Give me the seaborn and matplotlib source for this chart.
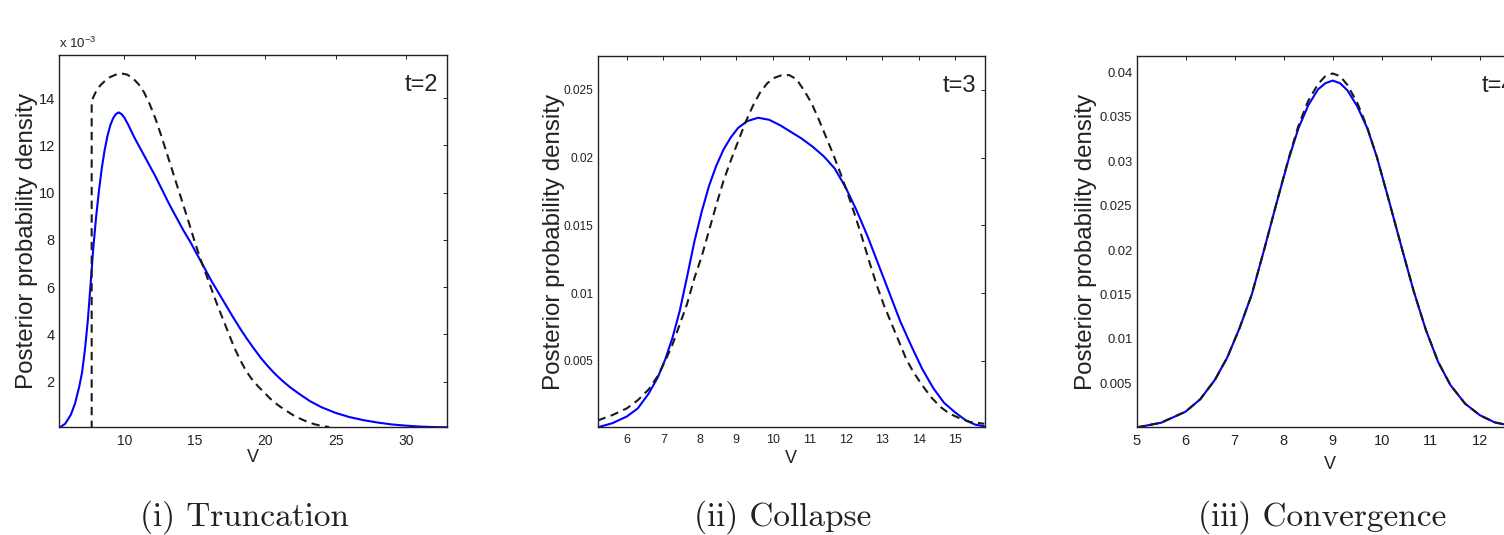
import numpy as np
import pandas as pd
import matplotlib
matplotlib.use("Agg")
import matplotlib.pyplot as plt
import seaborn as sns

# ---------------- data ----------------
# Panel (i) Truncation  (y in units of 1e-3)
p1_blue_x = [5.43, 5.8, 6.2, 6.5, 6.8, 7.0, 7.2, 7.4, 7.6, 7.8, 8.0, 8.2, 8.4, 8.6, 8.8,
             9.0, 9.2, 9.4, 9.6, 9.8, 10.0, 10.3, 10.7, 11.2, 11.7, 12.2, 12.7, 13.2,
             13.7, 14.2, 14.7, 15.2, 15.7, 16.2, 16.7, 17.2, 17.7, 18.2, 18.7, 19.2,
             19.7, 20.2, 20.7, 21.2, 21.8, 22.5, 23.2, 24.0, 25.0, 26.0, 27.0, 28.0,
             29.0, 30.0, 31.0, 32.0, 32.9]
p1_blue_y = [0.07, 0.22, 0.6, 1.08, 1.8, 2.4, 3.35, 4.55, 6.1, 7.7, 9.0, 10.1, 11.05, 11.8,
             12.4, 12.85, 13.15, 13.33, 13.4, 13.33, 13.18, 12.85, 12.35, 11.8, 11.25,
             10.7, 10.1, 9.5, 8.95, 8.4, 7.9, 7.35, 6.8, 6.25, 5.75, 5.25, 4.75, 4.27,
             3.82, 3.4, 3.0, 2.65, 2.33, 2.05, 1.75, 1.45, 1.17, 0.92, 0.68, 0.5, 0.37,
             0.27, 0.19, 0.14, 0.1, 0.08, 0.07]
p1_dash_x = [7.68, 7.68, 7.8, 8.0, 8.3, 8.6, 9.0, 9.4, 9.8, 10.2, 10.6, 11.0, 11.4, 11.8,
             12.2, 12.6, 13.0, 13.4, 13.8, 14.2, 14.6, 15.0, 15.4, 15.8, 16.2, 16.6, 17.0,
             17.4, 17.8, 18.2, 18.6, 19.0, 19.5, 20.0, 20.5, 21.0, 21.5, 22.0, 22.5, 23.0,
             23.5, 24.0, 24.54]
p1_dash_y = [0.0, 13.86, 14.05, 14.3, 14.55, 14.72, 14.9, 15.0, 15.05, 15.0, 14.85, 14.6,
             14.25, 13.75, 13.15, 12.45, 11.7, 10.95, 10.2, 9.45, 8.7, 7.92, 7.2, 6.55,
             5.9, 5.25, 4.65, 4.05, 3.45, 2.95, 2.5, 2.15, 1.8, 1.5, 1.2, 0.97, 0.77,
             0.58, 0.43, 0.3, 0.2, 0.13, 0.08]

# Panel (ii) Collapse
p2_blue_x = [5.2, 5.6, 6.0, 6.3, 6.6, 6.85, 7.05, 7.25, 7.45, 7.65, 7.85, 8.05, 8.25, 8.45,
             8.65, 8.85, 9.05, 9.3, 9.6, 9.9, 10.2, 10.5, 10.8, 11.1, 11.4, 11.7, 12.0,
             12.3, 12.6, 12.9, 13.2, 13.5, 13.8, 14.1, 14.4, 14.7, 15.0, 15.3, 15.55, 15.8]
p2_blue_y = [0.0001, 0.0004, 0.0009, 0.0015, 0.0026, 0.0038, 0.0051, 0.0067, 0.0087, 0.0112,
             0.0138, 0.0160, 0.0179, 0.0194, 0.0206, 0.0215, 0.0222, 0.0227, 0.02295,
             0.0228, 0.0224, 0.0219, 0.0214, 0.0208, 0.0201, 0.0192, 0.0178, 0.0161,
             0.0142, 0.0121, 0.0100, 0.0079, 0.0061, 0.0044, 0.0030, 0.0019, 0.0012,
             0.0006, 0.0003, 0.00017]
p2_dash_x = [5.2, 5.6, 6.0, 6.3, 6.6, 6.85, 7.05, 7.25, 7.45, 7.65, 7.85, 8.05, 8.25, 8.45,
             8.65, 8.85, 9.05, 9.25, 9.45, 9.65, 9.85, 10.05, 10.25, 10.45, 10.65, 10.85,
             11.05, 11.25, 11.45, 11.65, 11.85, 12.05, 12.25, 12.45, 12.65, 12.85, 13.05,
             13.25, 13.45, 13.65, 13.85, 14.1, 14.35, 14.6, 14.85, 15.1, 15.4, 15.8]
p2_dash_y = [0.0006, 0.001, 0.0015, 0.0021, 0.0029, 0.0039, 0.005, 0.0062, 0.0077, 0.0092,
             0.0111, 0.0127, 0.0146, 0.0165, 0.0183, 0.0198, 0.0212, 0.0226, 0.0238,
             0.0248, 0.0255, 0.0259, 0.0261, 0.0261, 0.0258, 0.0250, 0.0241, 0.0229,
             0.0216, 0.0203, 0.0189, 0.0174, 0.0158, 0.0141, 0.0123, 0.0106, 0.0091,
             0.0078, 0.0065, 0.0052, 0.0042, 0.0032, 0.0023, 0.0016, 0.0011, 0.0008,
             0.0005, 0.00036]

# Panel (iii) Convergence
p3_x = [5.0, 5.5, 6.0, 6.3, 6.6, 6.85, 7.1, 7.35, 7.6, 7.85, 8.1, 8.3, 8.5, 8.7, 8.85,
        9.0, 9.15, 9.3, 9.5, 9.7, 9.9, 10.15, 10.4, 10.65, 10.9, 11.15, 11.4, 11.7, 12.0,
        12.3, 12.6, 12.9]
p3_blue_y = [0.00002, 0.00055, 0.0018, 0.0032, 0.0054, 0.0079, 0.0112, 0.0150, 0.0200,
             0.0252, 0.0302, 0.0337, 0.0363, 0.0381, 0.0388, 0.0391, 0.0388, 0.0380,
             0.0362, 0.0338, 0.0305, 0.0255, 0.0204, 0.0154, 0.0110, 0.0074, 0.0048,
             0.0027, 0.0014, 0.0006, 0.00025, 0.0001]
p3_dash_y = [0.00003, 0.00056, 0.0018, 0.0032, 0.0054, 0.0079, 0.0112, 0.0150, 0.0200,
             0.0252, 0.0303, 0.0340, 0.0368, 0.0387, 0.0396, 0.0399, 0.0396, 0.0386,
             0.0366, 0.0339, 0.0305, 0.0255, 0.0204, 0.0154, 0.0110, 0.0074, 0.0048,
             0.0027, 0.0014, 0.0006, 0.00025, 0.0001]

time_labels = ["t=2", "t=3", "t=4"]
captions = ["(i) Truncation", "(ii) Collapse", "(iii) Convergence"]
p1_xticks = [10, 15, 20, 25, 30]
p1_yticks = [2, 4, 6, 8, 10, 12, 14]
p2_xticks = list(range(6, 16))
p2_yticks = [0.005, 0.01, 0.015, 0.02, 0.025]
p3_xticks = list(range(5, 13))
p3_yticks = [0.005, 0.01, 0.015, 0.02, 0.025, 0.03, 0.035, 0.04]

# ---------------- styling ----------------
sns.set_style("white")
plt.rcParams["font.family"] = ["Liberation Sans", "DejaVu Sans"]
plt.rcParams["mathtext.fontset"] = "custom"
plt.rcParams["mathtext.rm"] = "Liberation Sans"
plt.rcParams["mathtext.it"] = "Liberation Sans"

W, H = 1504, 535
fig = plt.figure(figsize=(W / 100, H / 100), dpi=100)

def px_axes(l, r, t, b):
    return fig.add_axes([l / W, (H - b) / H, (r - l) / W, (b - t) / H])

axes = [px_axes(59, 447, 55, 427.3),
        px_axes(597.7, 985, 55.7, 427.3),
        px_axes(1136.5, 1524, 55.7, 427.3)]

BLUE = "#0000ff"
DASH = "#1a1a1a"

def draw(ax, bx, by, dx, dy):
    sns.lineplot(x=bx, y=by, ax=ax, color=BLUE, lw=1.5, sort=False, estimator=None)
    sns.lineplot(x=dx, y=dy, ax=ax, color=DASH, lw=1.5, sort=False, estimator=None,
                 linestyle=(0, (4, 2.6)))

draw(axes[0], p1_blue_x, p1_blue_y, p1_dash_x, p1_dash_y)
draw(axes[1], p2_blue_x, p2_blue_y, p2_dash_x, p2_dash_y)
draw(axes[2], p3_x, p3_blue_y, p3_x, p3_dash_y)

lims = [((5.36, 32.91), (0.07, 15.83)),
        ((5.2, 15.82), (0.0001, 0.02753)),
        ((5.0, 12.9), (0.00004, 0.0419))]
ticks = [(p1_xticks, p1_yticks), (p2_xticks, p2_yticks), (p3_xticks, p3_yticks)]
tick_fs = [(10, 10.5), (9, 8.6), (10.5, 9.4)]
ylab_x = [-0.054, -0.084, -0.101]
xlab_y = [-0.058, -0.062, -0.076]

for i, ax in enumerate(axes):
    ax.set_xlim(*lims[i][0])
    ax.set_ylim(*lims[i][1])
    ax.set_xticks(ticks[i][0])
    ax.set_yticks(ticks[i][1])
    ax.set_xticklabels([f"{v:g}" for v in ticks[i][0]], fontsize=tick_fs[i][0])
    ax.set_yticklabels([f"{v:g}" for v in ticks[i][1]], fontsize=tick_fs[i][1])
    for s in ax.spines.values():
        s.set_visible(True)
        s.set_color("#222222")
        s.set_linewidth(1.0)
    ax.tick_params(direction="in", top=True, right=True, length=3, width=0.7,
                   color="#222222", labelcolor="#222222")
    ax.tick_params(axis="x", pad=5)
    ax.tick_params(axis="y", pad=3)
    ax.set_xlabel("V", fontsize=13, color="#222222")
    ax.set_ylabel("Posterior probability density", fontsize=17.4, color="#222222")
    ax.yaxis.set_label_coords(ylab_x[i], 0.5)
    ax.xaxis.set_label_coords(0.5, xlab_y[i])
    ax.text(0.977, 0.948, time_labels[i], transform=ax.transAxes, ha="right", va="top",
            fontsize=17, color="#222222")

axes[0].text(0.0, 1.012, r"x 10$^{-3}$", transform=axes[0].transAxes, ha="left",
             va="bottom", fontsize=9.5, color="#222222")

cap_x = [245, 783, 1322]
for cx, cap in zip(cap_x, captions):
    fig.text(cx / W, (H - 526) / H, cap, ha="center", va="baseline", fontsize=24,
             family="cmr10", color="#222222")

fig.savefig("out.png", dpi=100)
